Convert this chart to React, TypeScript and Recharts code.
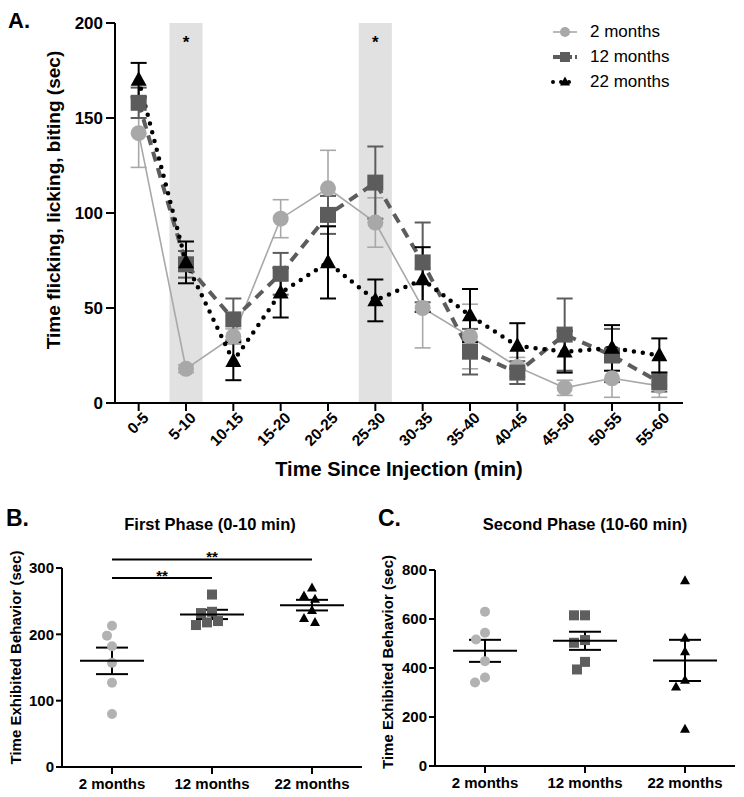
import React from 'react';
import {
  LineChart,
  Line,
  XAxis,
  YAxis,
  ErrorBar,
  ReferenceArea,
  ScatterChart,
  Scatter,
  ReferenceLine,
  Legend,
} from 'recharts';

const FONT = '"Liberation Sans", Arial, Helvetica, sans-serif';

// ---------- Panel A data ----------
const timeBins = ['0-5', '5-10', '10-15', '15-20', '20-25', '25-30', '30-35', '35-40', '40-45', '45-50', '50-55', '55-60'];
const mean2mo = [142, 18, 35, 97, 113, 95, 50, 35, 19, 8, 13, 9];
const sem2mo = [18, 2, 4, 10, 20, 13, 21, 17, 5, 4, 10, 6];
const mean12mo = [158, 73, 44, 68, 99, 116, 74, 27, 16, 36, 25, 11];
const sem12mo = [8, 7, 11, 11, 10, 19, 21, 12, 6, 19, 14, 5];
const mean22mo = [170, 74, 22, 58, 74, 54, 65, 46, 30, 27, 29, 25];
const sem22mo = [9, 11, 10, 13, 19, 11, 17, 14, 12, 11, 12, 9];
const significantBins = ['5-10', '25-30'];
const ticksA = [0, 50, 100, 150, 200];

// ---------- Panel B / C data ----------
const groups = ['2 months', '12 months', '22 months'];
const first2mo = [213, 198, 182, 157, 127, 80];
const first12mo = [260, 234, 232, 220, 218, 214];
const first22mo = [270, 258, 253, 236, 224, 218];
const firstMeans = [160, 230, 244];
const firstSems = [20, 7, 8];
const ticksB = [0, 100, 200, 300];
const firstSigPairs = [[0, 1], [0, 2]];
const firstSigLevels = [285, 313];
const firstSigText = ['**', '**'];

const second2mo = [630, 544, 516, 428, 361, 341];
const second12mo = [615, 615, 514, 503, 425, 394];
const second22mo = [757, 522, 467, 350, 323, 150];
const secondMeans = [470, 511, 431];
const secondSems = [45, 37, 84];
const ticksC = [0, 200, 400, 600, 800];

// ---------- layout / styles ----------
const A_W = 744;
const A_H = 490;
const A_LEFT = 115;
const A_RIGHT = 61;
const A_PLOT_W = A_W - A_LEFT - A_RIGHT;
const A_BAND = A_PLOT_W / timeBins.length;

const LIGHT = '#a8a8a8';
const DARK = '#5c5c5c';
const BLACK = '#000000';
const axisStyle = { stroke: '#000', strokeWidth: 2 };

type MarkerKind = 'circle' | 'square' | 'triangle';

function Marker({ kind, cx, cy, size, fill }: { kind: MarkerKind; cx: number; cy: number; size: number; fill: string }) {
  if (cx == null || cy == null || isNaN(cx) || isNaN(cy)) return null;
  const h = size / 2;
  if (kind === 'circle') return <circle cx={cx} cy={cy} r={h} fill={fill} />;
  if (kind === 'square') return <rect x={cx - h} y={cy - h} width={size} height={size} fill={fill} />;
  const th = size * 0.9;
  return (
    <path
      d={`M${cx},${cy - th * 0.6} L${cx + h},${cy + th * 0.4} L${cx - h},${cy + th * 0.4} Z`}
      fill={fill}
    />
  );
}

const seriesA = [
  { key: 'm2', err: 'e2', name: '2 months', color: LIGHT, marker: 'circle' as MarkerKind, width: 1.6, dash: undefined as string | undefined, cap: 'butt' as const, errW: 1.6, legendDash: undefined as string | undefined, legendW: 1.6 },
  { key: 'm12', err: 'e12', name: '12 months', color: DARK, marker: 'square' as MarkerKind, width: 4, dash: '10 7', cap: 'butt' as const, errW: 2, legendDash: '8 3', legendW: 4 },
  { key: 'm22', err: 'e22', name: '22 months', color: BLACK, marker: 'triangle' as MarkerKind, width: 4.5, dash: '0 9', cap: 'round' as const, errW: 2, legendDash: '0 8', legendW: 4 },
];

const dataA = timeBins.map((t, i) => ({
  t,
  m2: mean2mo[i],
  e2: sem2mo[i],
  m12: mean12mo[i],
  e12: sem12mo[i],
  m22: mean22mo[i],
  e22: sem22mo[i],
}));

const RotTick = (props: any) => {
  const { x, y, payload } = props;
  return (
    <g transform={`translate(${x},${y})`}>
      <text
        x={3.5}
        y={12}
        textAnchor="end"
        transform="rotate(-45)"
        fontSize={15.5}
        fontWeight="bold"
        fontFamily={FONT}
        fill="#000"
      >
        {payload.value}
      </text>
    </g>
  );
};

const BandShape = (props: any) => {
  const { x, y, width, height } = props;
  const cx = x + (width || 0) / 2;
  const w = A_BAND * 0.7;
  return <rect x={cx - w / 2} y={y} width={w} height={height} fill="#e1e1e1" />;
};

const StarLabel = (props: any) => {
  const vb = props.viewBox || {};
  return (
    <text x={vb.x + (vb.width || 0) / 2} y={vb.y + 25} textAnchor="middle" fontSize={17} fontWeight="bold" fontFamily={FONT} fill="#000">
      *
    </text>
  );
};

const XTitleA = (props: any) => {
  const vb = props.viewBox || {};
  return (
    <text x={vb.x + vb.width / 2} y={vb.y + 73} textAnchor="middle" fontSize={20} fontWeight="bold" fontFamily={FONT} fill="#000">
      Time Since Injection (min)
    </text>
  );
};

const YTitleA = (props: any) => {
  const vb = props.viewBox || {};
  const cx = vb.x + 60;
  const cy = vb.y + vb.height / 2 - 13;
  return (
    <text x={cx} y={cy} transform={`rotate(-90, ${cx}, ${cy})`} textAnchor="middle" fontSize={19} fontWeight="bold" fontFamily={FONT} fill="#000">
      Time flicking, licking, biting (sec)
    </text>
  );
};

const LegendA = () => (
  <div style={{ fontFamily: FONT, fontSize: 17, color: '#000' }}>
    {seriesA.map((s) => (
      <div key={s.key} style={{ display: 'flex', alignItems: 'center', height: 25 }}>
        <svg width={30} height={20} style={{ display: 'block' }}>
          <line x1={3} x2={27} y1={10} y2={10} stroke={s.color} strokeWidth={s.legendW} strokeDasharray={s.legendDash} strokeLinecap={s.cap} />
          <Marker kind={s.marker} cx={15} cy={10} size={10} fill={s.color} />
        </svg>
        <span style={{ marginLeft: 10, whiteSpace: 'nowrap' }}>{s.name}</span>
      </div>
    ))}
  </div>
);

function PanelA() {
  return (
    <LineChart width={A_W} height={A_H} data={dataA} margin={{ top: 23, right: A_RIGHT, left: 0, bottom: 0 }}>
      {significantBins.map((b) => (
        <ReferenceArea key={b} x1={b} x2={b} y1={0} y2={200} ifOverflow="visible" shape={BandShape} label={<StarLabel />} />
      ))}
      <XAxis
        dataKey="t"
        interval={0}
        height={87}
        padding={{ left: A_BAND / 2, right: A_BAND / 2 }}
        tickSize={8}
        tickMargin={2}
        axisLine={axisStyle}
        tickLine={axisStyle}
        tick={(p: any) => <RotTick {...p} />}
        label={<XTitleA />}
      />
      <YAxis
        width={A_LEFT}
        domain={[0, 200]}
        ticks={ticksA}
        interval={0}
        tickSize={9}
        tickMargin={3}
        axisLine={axisStyle}
        tickLine={axisStyle}
        tick={{ fill: '#000', fontSize: 17, fontWeight: 'bold', fontFamily: FONT }}
        label={<YTitleA />}
      />
      <Legend
        layout="vertical"
        align="center"
        verticalAlign="middle"
        wrapperStyle={{ top: 19, left: 550, width: 160, right: 'auto', bottom: 'auto' }}
        content={() => <LegendA />}
      />
      {seriesA.map((s) => (
        <Line
          key={s.key}
          dataKey={s.key}
          name={s.name}
          type="linear"
          stroke={s.color}
          strokeWidth={s.width}
          strokeDasharray={s.dash}
          strokeLinecap={s.cap}
          isAnimationActive={false}
          activeDot={false}
          dot={(p: any) => <Marker key={`${s.key}-${p.index}`} kind={s.marker} cx={p.cx} cy={p.cy} size={16} fill={s.color} />}
        >
          <ErrorBar dataKey={s.err} direction="y" width={8} stroke={s.color} strokeWidth={s.errW} isAnimationActive={false} />
        </Line>
      ))}
    </LineChart>
  );
}

// Beeswarm spreading of overlapping points (GraphPad-like scatter dot plot)
function swarm(values: number[], groupIndex: number, pxPerUnitY: number, pxPerUnitX: number, d: number) {
  const order = values.map((_, i) => i).sort((a, b) => values[b] - values[a]);
  const placed: { dx: number; y: number }[] = [];
  const off = new Array(values.length).fill(0);
  for (const i of order) {
    const y = values[i] * pxPerUnitY;
    for (let k = 0; k < 400; k++) {
      const step = Math.ceil(k / 2);
      const dx = k === 0 ? 0 : k % 2 === 1 ? -step : step;
      if (placed.every((p) => Math.hypot(p.dx - dx, p.y - y) >= d)) {
        off[i] = dx;
        placed.push({ dx, y });
        break;
      }
    }
  }
  return values.map((v, i) => ({ x: groupIndex + off[i] / pxPerUnitX, y: v }));
}

const groupStyles = [
  { color: '#b2b2b2', marker: 'circle' as MarkerKind },
  { color: '#5e5e5e', marker: 'square' as MarkerKind },
  { color: '#000000', marker: 'triangle' as MarkerKind },
];

type PhaseProps = {
  letter: string;
  title: string;
  values: number[][];
  means: number[];
  sems: number[];
  yMax: number;
  ticks: number[];
  marginTop: number;
  marginRight: number;
  yAxisWidth: number;
  xAxisHeight: number;
  sigPairs?: number[][];
  sigLevels?: number[];
  sigText?: string[];
  titleX: number;
  yTitleOffset: number;
};

function PhasePanel(p: PhaseProps) {
  const W = 372;
  const H = 307;
  const plotH = H - p.marginTop - p.xAxisHeight;
  const plotW = W - p.yAxisWidth - p.marginRight;
  const pxY = plotH / p.yMax;
  const pxX = plotW / 3;
  const pts = p.values.map((vals, g) => swarm(vals, g, pxY, pxX, 11));
  const meanData = p.means.map((m, g) => ({ x: g, y: m, err: p.sems[g] }));

  const YTitle = (props: any) => {
    const vb = props.viewBox || {};
    const cx = vb.x + 21;
    const cy = vb.y + vb.height / 2 + p.yTitleOffset;
    return (
      <text x={cx} y={cy} transform={`rotate(-90, ${cx}, ${cy})`} textAnchor="middle" fontSize={15} fontWeight="bold" fontFamily={FONT} fill="#000">
        Time Exhibited Behavior (sec)
      </text>
    );
  };

  return (
    <div style={{ position: 'relative', width: W, height: H }}>
      <div style={{ position: 'absolute', left: 6, top: 15, fontFamily: FONT, fontWeight: 'bold', fontSize: 23 }}>{p.letter}</div>
      <div
        style={{
          position: 'absolute',
          left: p.titleX - 120,
          width: 240,
          top: 25,
          textAlign: 'center',
          fontFamily: FONT,
          fontWeight: 'bold',
          fontSize: 16.5,
        }}
      >
        {p.title}
      </div>
      <ScatterChart width={W} height={H} margin={{ top: p.marginTop, right: p.marginRight, left: 0, bottom: 0 }}>
        <XAxis
          type="number"
          dataKey="x"
          domain={[-0.5, 2.5]}
          ticks={[0, 1, 2]}
          interval={0}
          allowDataOverflow
          tickFormatter={(v: number) => groups[v]}
          height={p.xAxisHeight}
          tickSize={7}
          tickMargin={4}
          axisLine={axisStyle}
          tickLine={axisStyle}
          tick={{ fill: '#000', fontSize: 15, fontWeight: 'bold', fontFamily: FONT }}
        />
        <YAxis
          type="number"
          dataKey="y"
          domain={[0, p.yMax]}
          ticks={p.ticks}
          interval={0}
          allowDataOverflow
          width={p.yAxisWidth}
          tickSize={6}
          tickMargin={2}
          axisLine={axisStyle}
          tickLine={axisStyle}
          tick={{ fill: '#000', fontSize: 15, fontWeight: 'bold', fontFamily: FONT }}
          label={<YTitle />}
        />
        {(p.sigPairs || []).map((pair, i) => (
          <ReferenceLine
            key={`sig-${i}`}
            segment={[
              { x: pair[0], y: p.sigLevels![i] },
              { x: pair[1], y: p.sigLevels![i] },
            ]}
            stroke="#000"
            strokeWidth={2}
            ifOverflow="visible"
            label={(lp: any) => {
              const vb = lp.viewBox || {};
              return (
                <text x={vb.x + vb.width / 2} y={vb.y + 3} textAnchor="middle" fontSize={15} fontWeight="bold" fontFamily={FONT} fill="#000">
                  {p.sigText![i]}
                </text>
              );
            }}
          />
        ))}
        {pts.map((data, g) => (
          <Scatter
            key={`g-${g}`}
            data={data}
            isAnimationActive={false}
            shape={(sp: any) => <Marker kind={groupStyles[g].marker} cx={sp.cx} cy={sp.cy} size={10} fill={groupStyles[g].color} />}
          />
        ))}
        <Scatter
          data={meanData}
          isAnimationActive={false}
          shape={(sp: any) => <line x1={sp.cx - 32} x2={sp.cx + 32} y1={sp.cy} y2={sp.cy} stroke="#000" strokeWidth={2} />}
        >
          <ErrorBar dataKey="err" direction="y" width={16} stroke="#000" strokeWidth={2} isAnimationActive={false} />
        </Scatter>
      </ScatterChart>
    </div>
  );
}

export default function App() {
  return (
    <div style={{ position: 'absolute', left: 0, top: 0, width: 744, height: 797, background: '#fff', overflow: 'hidden' }}>
      <div style={{ position: 'absolute', left: 0, top: 0 }}>
        <PanelA />
      </div>
      <div style={{ position: 'absolute', left: 8, top: 8, fontFamily: FONT, fontWeight: 'bold', fontSize: 22 }}>A.</div>
      <div style={{ position: 'absolute', left: 0, top: 490 }}>
        <PhasePanel
          letter="B."
          title="First Phase (0-10 min)"
          values={[first2mo, first12mo, first22mo]}
          means={firstMeans}
          sems={firstSems}
          yMax={300}
          ticks={ticksB}
          marginTop={78}
          marginRight={10}
          yAxisWidth={62}
          xAxisHeight={30}
          sigPairs={firstSigPairs}
          sigLevels={firstSigLevels}
          sigText={firstSigText}
          titleX={210}
          yTitleOffset={-10}
        />
      </div>
      <div style={{ position: 'absolute', left: 372, top: 490 }}>
        <PhasePanel
          letter="C."
          title="Second Phase (10-60 min)"
          values={[second2mo, second12mo, second22mo]}
          means={secondMeans}
          sems={secondSems}
          yMax={800}
          ticks={ticksC}
          marginTop={80}
          marginRight={9}
          yAxisWidth={63}
          xAxisHeight={31}
          titleX={213}
          yTitleOffset={-6}
        />
      </div>
    </div>
  );
}
